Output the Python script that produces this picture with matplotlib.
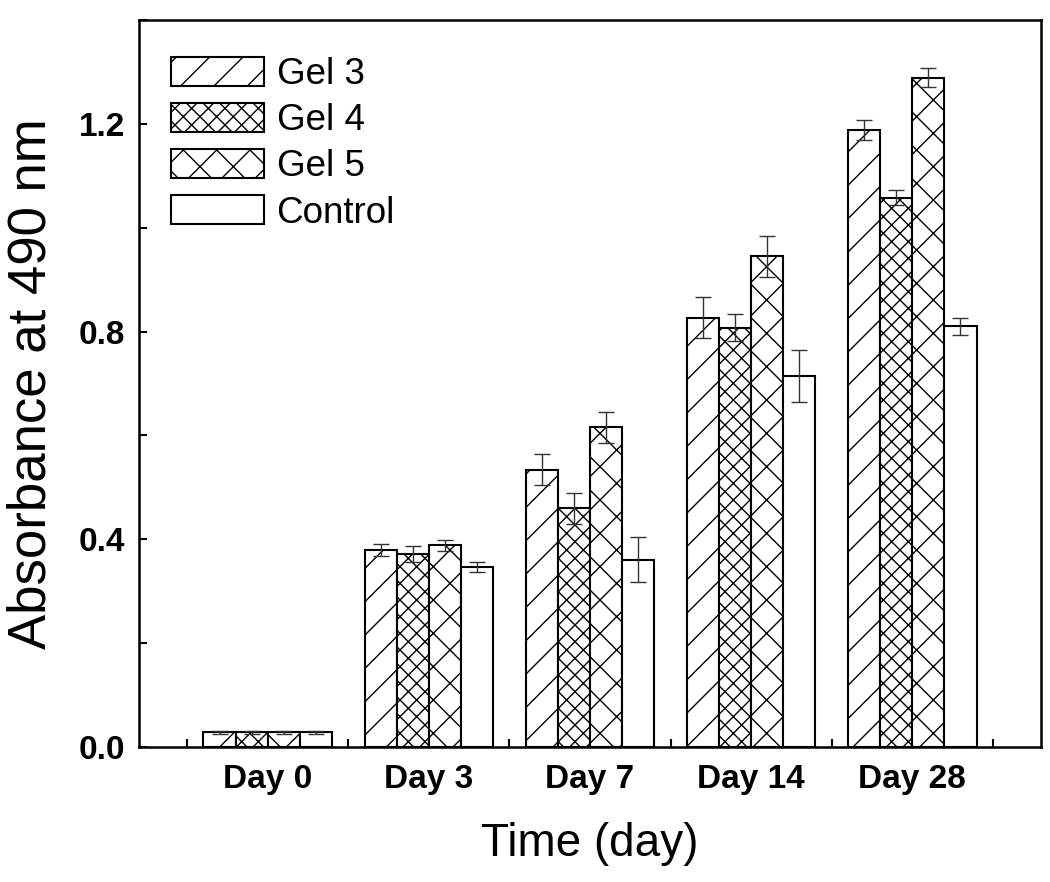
import numpy as np
import matplotlib
matplotlib.use("Agg")
import matplotlib.pyplot as plt
from matplotlib.ticker import MultipleLocator

plt.rcParams['font.family'] = ['Liberation Sans', 'DejaVu Sans']
plt.rcParams['hatch.linewidth'] = 1.0

# datos
dias = ['Day 0', 'Day 3', 'Day 7', 'Day 14', 'Day 28']
series = ['Gel 3', 'Gel 4', 'Gel 5', 'Control']

gel3 = [0.028, 0.379, 0.534, 0.827, 1.188]
gel4 = [0.028, 0.372, 0.460, 0.807, 1.058]
gel5 = [0.028, 0.388, 0.616, 0.945, 1.289]
control = [0.028, 0.347, 0.361, 0.715, 0.810]

err_gel3 = [0.003, 0.011, 0.030, 0.040, 0.019]
err_gel4 = [0.003, 0.015, 0.030, 0.026, 0.014]
err_gel5 = [0.003, 0.010, 0.030, 0.039, 0.018]
err_control = [0.003, 0.010, 0.044, 0.050, 0.016]

valores = [gel3, gel4, gel5, control]
errores = [err_gel3, err_gel4, err_gel5, err_control]
tramas = ['/', 'xx', 'x', '']

fig = plt.figure(figsize=(10.5, 8.82), dpi=100)
ax = fig.add_axes([0.1324, 0.1531, 0.8590, 0.8242])

x = np.arange(len(dias))
ancho = 0.2
for i in range(len(series)):
    pos = x + (i - 1.5) * ancho
    ax.bar(pos, valores[i], ancho, color='white', edgecolor='black',
           linewidth=1.5, hatch=tramas[i], label=series[i], zorder=2)
    ax.errorbar(pos, valores[i], yerr=errores[i], fmt='none', ecolor='#333333',
                elinewidth=1.0, capsize=5.5, capthick=1.0, zorder=3)

ax.set_xlim(-0.8, 4.8)
ax.set_ylim(0, 1.4)
ax.set_xticks(x)
ax.set_xticklabels(dias, fontsize=24, fontweight='bold')
ax.xaxis.set_minor_locator(MultipleLocator(1, offset=0.5))
ax.yaxis.set_major_locator(MultipleLocator(0.4))
ax.yaxis.set_minor_locator(MultipleLocator(0.2))
ax.set_yticklabels([f'{v:.1f}' for v in ax.get_yticks()], fontsize=24, fontweight='bold')

ax.tick_params(axis='x', which='major', length=0, pad=12)
ax.tick_params(axis='x', which='minor', direction='in', length=6, width=1.5)
ax.tick_params(axis='y', which='both', direction='in', length=6, width=1.5, pad=10)
for s in ax.spines.values():
    s.set_linewidth(1.8)

ax.set_xlabel('Time (day)', fontsize=33, labelpad=20)
ax.set_ylabel('Absorbance at 490 nm', fontsize=38, labelpad=16)

ax.legend(loc='upper left', bbox_to_anchor=(0.035, 0.949), frameon=False,
          fontsize=26.5, handlelength=2.53, handleheight=0.82, handletextpad=0.35,
          labelspacing=0.3, borderpad=0, borderaxespad=0)

fig.savefig('out.png', dpi=100)
